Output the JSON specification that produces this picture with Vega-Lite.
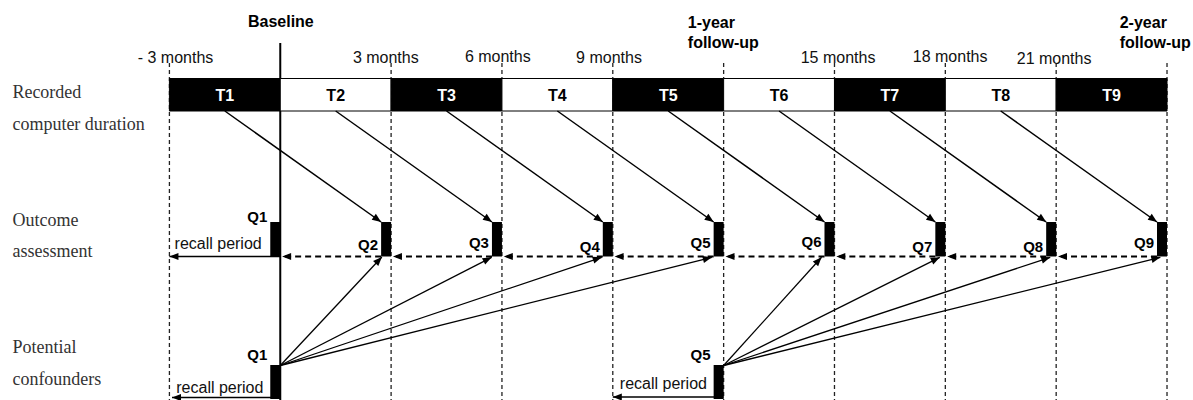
{
  "$schema": "https://vega.github.io/schema/vega-lite/v6.json",
  "width": 1193,
  "height": 400,
  "autosize": "none",
  "padding": 0,
  "background": "white",
  "config": {"view": {"stroke": null}, "text": {"font": "Liberation Sans"}},
  "datasets": {
    "periods": [
      {"name": "T1", "x": -3, "x2": 0, "mid": -1.5, "y": 78.5, "y2": 111, "ly": 96, "shade": "dark"},
      {"name": "T2", "x": 0, "x2": 3, "mid": 1.5, "y": 78.5, "y2": 111, "ly": 96, "shade": "light"},
      {"name": "T3", "x": 3, "x2": 6, "mid": 4.5, "y": 78.5, "y2": 111, "ly": 96, "shade": "dark"},
      {"name": "T4", "x": 6, "x2": 9, "mid": 7.5, "y": 78.5, "y2": 111, "ly": 96, "shade": "light"},
      {"name": "T5", "x": 9, "x2": 12, "mid": 10.5, "y": 78.5, "y2": 111, "ly": 96, "shade": "dark"},
      {"name": "T6", "x": 12, "x2": 15, "mid": 13.5, "y": 78.5, "y2": 111, "ly": 96, "shade": "light"},
      {"name": "T7", "x": 15, "x2": 18, "mid": 16.5, "y": 78.5, "y2": 111, "ly": 96, "shade": "dark"},
      {"name": "T8", "x": 18, "x2": 21, "mid": 19.5, "y": 78.5, "y2": 111, "ly": 96, "shade": "light"},
      {"name": "T9", "x": 21, "x2": 24, "mid": 22.5, "y": 78.5, "y2": 111, "ly": 96, "shade": "dark"}
    ],
    "ticks": [
      {"x": -3, "label": "- 3 months", "at": -2.834, "y": 63, "y2": 400, "ly": 58, "line": "dashed"},
      {"x": 0, "label": "", "at": 0, "y": 43, "y2": 400, "ly": 58, "line": "solid"},
      {"x": 3, "label": "3 months", "at": 2.856, "y": 63, "y2": 400, "ly": 58, "line": "dashed"},
      {"x": 6, "label": "6 months", "at": 5.888, "y": 63, "y2": 400, "ly": 56.5, "line": "dashed"},
      {"x": 9, "label": "9 months", "at": 8.897, "y": 63, "y2": 400, "ly": 58, "line": "dashed"},
      {"x": 12, "label": "", "at": 12, "y": 63, "y2": 400, "ly": 58, "line": "dashed"},
      {"x": 15, "label": "15 months", "at": 15.096, "y": 63, "y2": 400, "ly": 58, "line": "dashed"},
      {"x": 18, "label": "18 months", "at": 18.13, "y": 63, "y2": 400, "ly": 56.5, "line": "dashed"},
      {"x": 21, "label": "21 months", "at": 20.944, "y": 63, "y2": 400, "ly": 59, "line": "dashed"},
      {"x": 24, "label": "", "at": 24, "y": 63, "y2": 400, "ly": 58, "line": "dashed"}
    ],
    "headings": [
      {"text": "Baseline", "x": -0.875, "y": 22},
      {"text": "1-year", "x": 11.03, "y": 22.7},
      {"text": "follow-up", "x": 11.03, "y": 42.7},
      {"text": "2-year", "x": 22.72, "y": 22.7},
      {"text": "follow-up", "x": 22.72, "y": 42.7}
    ],
    "lanes": [
      {"text": "Recorded", "x": -7.25, "y": 92.7},
      {"text": "computer duration", "x": -7.25, "y": 125},
      {"text": "Outcome", "x": -7.25, "y": 220.7},
      {"text": "assessment", "x": -7.25, "y": 251.7},
      {"text": "Potential", "x": -7.25, "y": 348.3},
      {"text": "confounders", "x": -7.25, "y": 380}
    ],
    "qboxes": [
      {"q": "Q1", "x": 0, "y": 222, "y2": 256.5, "ly": 216.7},
      {"q": "Q2", "x": 3, "y": 222, "y2": 256.5, "ly": 245},
      {"q": "Q3", "x": 6, "y": 222, "y2": 256.5, "ly": 242.7},
      {"q": "Q4", "x": 9, "y": 222, "y2": 256.5, "ly": 246.7},
      {"q": "Q5", "x": 12, "y": 222, "y2": 256.5, "ly": 243.3},
      {"q": "Q6", "x": 15, "y": 222, "y2": 256.5, "ly": 241.7},
      {"q": "Q7", "x": 18, "y": 222, "y2": 256.5, "ly": 246.7},
      {"q": "Q8", "x": 21, "y": 222, "y2": 256.5, "ly": 246.7},
      {"q": "Q9", "x": 24, "y": 222, "y2": 256.5, "ly": 242.7},
      {"q": "Q1", "x": 0, "y": 365, "y2": 399, "ly": 355},
      {"q": "Q5", "x": 12, "y": 365, "y2": 399, "ly": 355}
    ],
    "recall": [
      {"text": "recall period", "x": -2.861, "y": 244.3},
      {"text": "recall period", "x": -2.815, "y": 387.7},
      {"text": "recall period", "x": 9.19, "y": 384}
    ],
    "arrows": [
      {"x": -1.5, "y": 111, "x2": 2.73, "y2": 222, "kind": "exposure"},
      {"x": 1.5, "y": 111, "x2": 5.73, "y2": 222, "kind": "exposure"},
      {"x": 4.5, "y": 111, "x2": 8.73, "y2": 222, "kind": "exposure"},
      {"x": 7.5, "y": 111, "x2": 11.73, "y2": 222, "kind": "exposure"},
      {"x": 10.5, "y": 111, "x2": 14.73, "y2": 222, "kind": "exposure"},
      {"x": 13.5, "y": 111, "x2": 17.73, "y2": 222, "kind": "exposure"},
      {"x": 16.5, "y": 111, "x2": 20.73, "y2": 222, "kind": "exposure"},
      {"x": 19.5, "y": 111, "x2": 23.73, "y2": 222, "kind": "exposure"},
      {"x": 2.73, "y": 256.5, "x2": 0.05, "y2": 256.5, "kind": "followup"},
      {"x": 5.73, "y": 256.5, "x2": 3.05, "y2": 256.5, "kind": "followup"},
      {"x": 8.73, "y": 256.5, "x2": 6.05, "y2": 256.5, "kind": "followup"},
      {"x": 11.73, "y": 256.5, "x2": 9.05, "y2": 256.5, "kind": "followup"},
      {"x": 14.73, "y": 256.5, "x2": 12.05, "y2": 256.5, "kind": "followup"},
      {"x": 17.73, "y": 256.5, "x2": 15.05, "y2": 256.5, "kind": "followup"},
      {"x": 20.73, "y": 256.5, "x2": 18.05, "y2": 256.5, "kind": "followup"},
      {"x": 23.73, "y": 256.5, "x2": 21.05, "y2": 256.5, "kind": "followup"},
      {"x": 0, "y": 256.5, "x2": -3, "y2": 256.5, "kind": "recall"},
      {"x": 0, "y": 397.5, "x2": -2.93, "y2": 397.5, "kind": "recall"},
      {"x": 12, "y": 397, "x2": 9, "y2": 397, "kind": "recall"},
      {"x": 0, "y": 365.5, "x2": 2.75, "y2": 257, "kind": "confounder"},
      {"x": 0, "y": 365.5, "x2": 5.72, "y2": 257.3, "kind": "confounder"},
      {"x": 0, "y": 365.5, "x2": 8.7, "y2": 257.3, "kind": "confounder"},
      {"x": 0, "y": 365.5, "x2": 11.68, "y2": 257.3, "kind": "confounder"},
      {"x": 12, "y": 365.5, "x2": 14.65, "y2": 257.3, "kind": "confounder"},
      {"x": 12, "y": 365.5, "x2": 17.85, "y2": 257.3, "kind": "confounder"},
      {"x": 12, "y": 365.5, "x2": 20.84, "y2": 257.3, "kind": "confounder"},
      {"x": 12, "y": 365.5, "x2": 23.82, "y2": 257.3, "kind": "confounder"}
    ]
  },
  "encoding": {
    "x": {"field": "x", "type": "quantitative", "scale": {"domain": [-7.45, 24.568], "nice": false, "zero": false}, "axis": null},
    "y": {"field": "y", "type": "quantitative", "scale": {"domain": [0, 400], "reverse": true, "nice": false, "zero": false}, "axis": null}
  },
  "layer": [
    {
      "data": {"name": "ticks"},
      "transform": [{"filter": "datum.line === 'dashed'"}],
      "mark": {"type": "rule", "color": "#222", "strokeWidth": 1.3, "strokeDash": [4, 3]},
      "encoding": {"y2": {"field": "y2"}}
    },
    {
      "data": {"name": "ticks"},
      "transform": [{"filter": "datum.line === 'solid'"}],
      "mark": {"type": "rule", "color": "black", "strokeWidth": 2},
      "encoding": {"y2": {"field": "y2"}}
    },
    {
      "data": {"name": "ticks"},
      "mark": {"type": "text", "fontSize": 16, "color": "#111", "baseline": "middle", "align": "center"},
      "encoding": {"x": {"field": "at", "type": "quantitative"}, "y": {"field": "ly", "type": "quantitative"}, "text": {"field": "label"}}
    },
    {
      "data": {"name": "periods"},
      "mark": {"type": "rect", "stroke": "black", "strokeWidth": 1},
      "encoding": {
        "x2": {"field": "x2"},
        "y2": {"field": "y2"},
        "fill": {"condition": {"test": "datum.shade === 'dark'", "value": "black"}, "value": "white"}
      }
    },
    {
      "data": {"name": "periods"},
      "mark": {"type": "text", "fontSize": 16, "fontWeight": "bold", "baseline": "middle", "align": "center"},
      "encoding": {
        "x": {"field": "mid", "type": "quantitative"},
        "y": {"field": "ly", "type": "quantitative"},
        "text": {"field": "name"},
        "color": {"condition": {"test": "datum.shade === 'dark'", "value": "white"}, "value": "black"}
      }
    },
    {
      "data": {"name": "arrows"},
      "transform": [{"filter": "datum.kind === 'exposure'"}],
      "mark": {"type": "rule", "color": "black", "strokeWidth": 1.5},
      "encoding": {"x2": {"field": "x2"}, "y2": {"field": "y2"}}
    },
    {
      "data": {"name": "arrows"},
      "transform": [{"filter": "datum.kind === 'recall' || datum.kind === 'confounder'"}],
      "mark": {"type": "rule", "color": "black", "strokeWidth": 1.3},
      "encoding": {"x2": {"field": "x2"}, "y2": {"field": "y2"}}
    },
    {
      "data": {"name": "arrows"},
      "transform": [{"filter": "datum.kind === 'followup'"}],
      "mark": {"type": "rule", "color": "black", "strokeWidth": 1.8, "strokeDash": [6, 4]},
      "encoding": {"x2": {"field": "x2"}, "y2": {"field": "y2"}}
    },
    {
      "data": {"name": "arrows"},
      "mark": {
        "type": "point",
        "shape": "M0,0L-0.8,2L0.8,2Z",
        "size": 81,
        "filled": true,
        "opacity": 1,
        "color": "black",
        "strokeWidth": 0,
        "angle": {"expr": "atan2((datum.x2 - datum.x) * 37.26, -(datum.y2 - datum.y)) * 180 / PI"}
      },
      "encoding": {"x": {"field": "x2", "type": "quantitative"}, "y": {"field": "y2", "type": "quantitative"}}
    },
    {
      "data": {"name": "qboxes"},
      "mark": {"type": "bar", "color": "black", "width": 10, "xOffset": -5},
      "encoding": {"y2": {"field": "y2"}}
    },
    {
      "data": {"name": "qboxes"},
      "mark": {"type": "text", "fontSize": 15, "fontWeight": "bold", "baseline": "middle", "align": "right", "dx": -13, "color": "black"},
      "encoding": {"y": {"field": "ly", "type": "quantitative"}, "text": {"field": "q"}}
    },
    {
      "data": {"name": "recall"},
      "mark": {"type": "text", "fontSize": 16, "baseline": "middle", "align": "left", "color": "#111"},
      "encoding": {"text": {"field": "text"}}
    },
    {
      "data": {"name": "headings"},
      "mark": {"type": "text", "fontSize": 16, "fontWeight": "bold", "baseline": "middle", "align": "left", "color": "black"},
      "encoding": {"text": {"field": "text"}}
    },
    {
      "data": {"name": "lanes"},
      "mark": {"type": "text", "font": "Liberation Serif", "fontSize": 18, "baseline": "middle", "align": "left", "color": "#333"},
      "encoding": {"text": {"field": "text"}}
    }
  ]
}
